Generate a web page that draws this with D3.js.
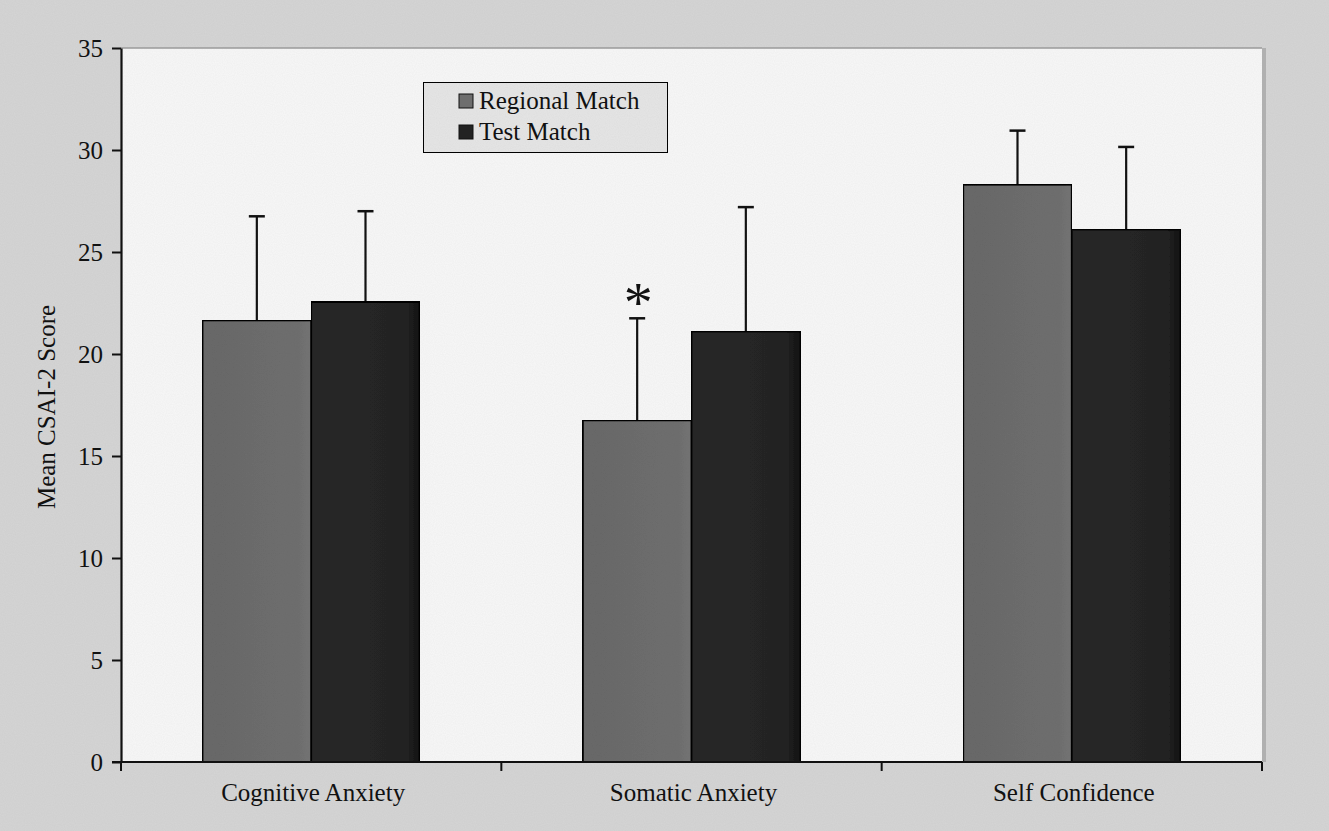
<!DOCTYPE html>
<html>
<head>
<meta charset="utf-8">
<script src="https://cdn.jsdelivr.net/npm/d3@7"></script>
<style>
  html, body { margin: 0; padding: 0; background: #d8d8d8; }
  svg { display: block; }
  text { font-family: "Liberation Serif", "Times New Roman", serif; fill: #111; }
</style>
</head>
<body>
<svg id="chart" width="1329" height="831"></svg>
<script>
// CSAI-2 subscale means with SD error bars
const categories = ["Cognitive Anxiety", "Somatic Anxiety", "Self Confidence"];
const seriesNames = ["Regional Match", "Test Match"];
const regionalMeans = [21.65, 16.75, 28.3];
const regionalSD = [5.1, 5.0, 2.65];
const testMeans = [22.55, 21.1, 26.1];
const testSD = [4.45, 6.1, 4.05];
const yTicks = [0, 5, 10, 15, 20, 25, 30, 35];
const significant = [false, true, false]; // regional vs test, p < .05 marker

const svg = d3.select("#chart");
const W = 1329, H = 831;
const margin = { left: 121, right: 67 };
const x0 = margin.left, x1 = W - margin.right;

// page background with light grain
const defs = svg.append("defs");
const grain = defs.append("filter").attr("id", "grain").attr("x", 0).attr("y", 0).attr("width", 1).attr("height", 1);
grain.append("feTurbulence").attr("type", "fractalNoise").attr("baseFrequency", 0.9).attr("numOctaves", 1).attr("seed", 3).attr("result", "n");
grain.append("feColorMatrix").attr("in", "n").attr("type", "matrix")
  .attr("values", "0 0 0 0 0  0 0 0 0 0  0 0 0 0 0  0 0 0 0.08 0").attr("result", "a");
grain.append("feComposite").attr("in", "a").attr("in2", "SourceGraphic").attr("operator", "in").attr("result", "g");
grain.append("feMerge").call(m => { m.append("feMergeNode").attr("in", "SourceGraphic"); m.append("feMergeNode").attr("in", "g"); });

svg.append("rect").attr("width", W).attr("height", H).attr("fill", "#d6d6d6").attr("filter", "url(#grain)");

const y = d3.scaleLinear().domain([0, 35]).range([762, 48]);
const xBand = d3.scaleBand().domain(categories).range([x0, x1]).paddingInner(0).paddingOuter(0);
// bars take 2/(2+1.5) of each category slot (150% gap)
const barW = xBand.bandwidth() / 3.5;
const xSub = d3.scaleBand().domain(seriesNames).range([0, 2 * barW]).padding(0);

// plot area
svg.append("rect")
  .attr("x", x0).attr("y", y(35))
  .attr("width", x1 - x0).attr("height", y(0) - y(35))
  .attr("fill", "#f8f8f8").attr("filter", "url(#grain)");
svg.append("line").attr("x1", x0).attr("x2", x1).attr("y1", y(35)).attr("y2", y(35))
  .attr("stroke", "#9a9a9a").attr("stroke-width", 1.5);
svg.append("line").attr("x1", x1 + 2).attr("x2", x1 + 2).attr("y1", y(35)).attr("y2", y(0))
  .attr("stroke", "#b0b0b0").attr("stroke-width", 4);

// gradients for bar shading
function grad(id, c1, c2, c3) {
  const g = defs.append("linearGradient").attr("id", id).attr("x1", 0).attr("x2", 1).attr("y1", 0).attr("y2", 0);
  g.append("stop").attr("offset", "0%").attr("stop-color", c1);
  g.append("stop").attr("offset", "88%").attr("stop-color", c2);
  g.append("stop").attr("offset", "100%").attr("stop-color", c3);
}
grad("gReg", "#6a6a6a", "#707070", "#767676");
grad("gTest", "#2c2c2c", "#272727", "#181818");
const fills = { "Regional Match": "url(#gReg)", "Test Match": "url(#gTest)" };
const swatch = { "Regional Match": "#6e6e6e", "Test Match": "#222" };

const rows = [];
categories.forEach((c, i) => {
  rows.push({ cat: c, s: "Regional Match", v: regionalMeans[i], sd: regionalSD[i], sig: significant[i] });
  rows.push({ cat: c, s: "Test Match", v: testMeans[i], sd: testSD[i], sig: false });
});
const bx = d => xBand(d.cat) + (xBand.bandwidth() - 2 * barW) / 2 + xSub(d.s);

const g = svg.append("g");
// error bars (drawn first so the bar covers the lower half)
g.selectAll("line.err").data(rows).join("line").attr("class", "err")
  .attr("x1", d => bx(d) + barW / 2).attr("x2", d => bx(d) + barW / 2)
  .attr("y1", d => y(d.v)).attr("y2", d => y(d.v + d.sd))
  .attr("stroke", "#111").attr("stroke-width", 2.2);
g.selectAll("line.cap").data(rows).join("line").attr("class", "cap")
  .attr("x1", d => bx(d) + barW / 2 - 8).attr("x2", d => bx(d) + barW / 2 + 8)
  .attr("y1", d => y(d.v + d.sd)).attr("y2", d => y(d.v + d.sd))
  .attr("stroke", "#111").attr("stroke-width", 2.5);

g.selectAll("rect.bar").data(rows).join("rect").attr("class", "bar")
  .attr("x", d => bx(d)).attr("width", barW)
  .attr("y", d => y(d.v)).attr("height", d => y(0) - y(d.v))
  .attr("fill", d => fills[d.s]).attr("stroke", "#111").attr("stroke-width", 2)
  .attr("filter", "url(#grain)");

// significance asterisk
g.selectAll("text.sig").data(rows.filter(d => d.sig)).join("text").attr("class", "sig")
  .attr("x", d => bx(d) + barW / 2 + 1).attr("y", d => y(d.v + d.sd) + 4)
  .attr("text-anchor", "middle").attr("font-size", 58).text("*");

// y axis
const yAxis = d3.axisLeft(y).tickValues(yTicks).tickSize(9).tickSizeOuter(0).tickPadding(9);
const ya = svg.append("g").attr("transform", `translate(${x0},0)`).call(yAxis);
ya.select(".domain").attr("stroke", "#111").attr("stroke-width", 2.2);
ya.selectAll(".tick line").attr("stroke", "#111").attr("stroke-width", 2);
ya.selectAll(".tick text").attr("font-size", 25).attr("fill", "#111")
  .attr("font-family", "Liberation Serif, serif");

// x axis: ticks at category boundaries
const xa = svg.append("g").attr("transform", `translate(0,${y(0)})`);
xa.append("line").attr("x1", x0 - 9).attr("x2", x1).attr("stroke", "#111").attr("stroke-width", 2.2);
const bounds = categories.map(c => xBand(c)).concat([x1]);
xa.selectAll("line.bt").data(bounds).join("line").attr("class", "bt")
  .attr("x1", d => d).attr("x2", d => d).attr("y1", 0).attr("y2", 9)
  .attr("stroke", "#111").attr("stroke-width", 2);
xa.selectAll("text.cl").data(categories).join("text").attr("class", "cl")
  .attr("x", c => xBand(c) + xBand.bandwidth() / 2 + 2).attr("y", 21)
  .attr("dy", "0.71em")
  .attr("text-anchor", "middle").attr("font-size", 25).text(c => c);

// y axis title
svg.append("text")
  .attr("transform", `translate(55,${(y(0) + y(35)) / 2 + 2}) rotate(-90)`)
  .attr("text-anchor", "middle").attr("font-size", 25).text("Mean CSAI-2 Score");

// legend
const lg = svg.append("g").attr("transform", "translate(423,82)");
lg.append("rect").attr("width", 245).attr("height", 71)
  .attr("fill", "#e6e6e6").attr("stroke", "#111").attr("stroke-width", 2).attr("filter", "url(#grain)");
const li = lg.selectAll("g.li").data(seriesNames).join("g").attr("class", "li")
  .attr("transform", (d, i) => `translate(36,${19 + i * 31})`);
li.append("rect").attr("x", 0).attr("y", -7).attr("width", 14).attr("height", 14)
  .attr("fill", d => swatch[d]).attr("stroke", "#111").attr("stroke-width", 1);
li.append("text").attr("x", 20).attr("y", 8).attr("font-size", 25).text(d => d);
</script>
</body>
</html>
